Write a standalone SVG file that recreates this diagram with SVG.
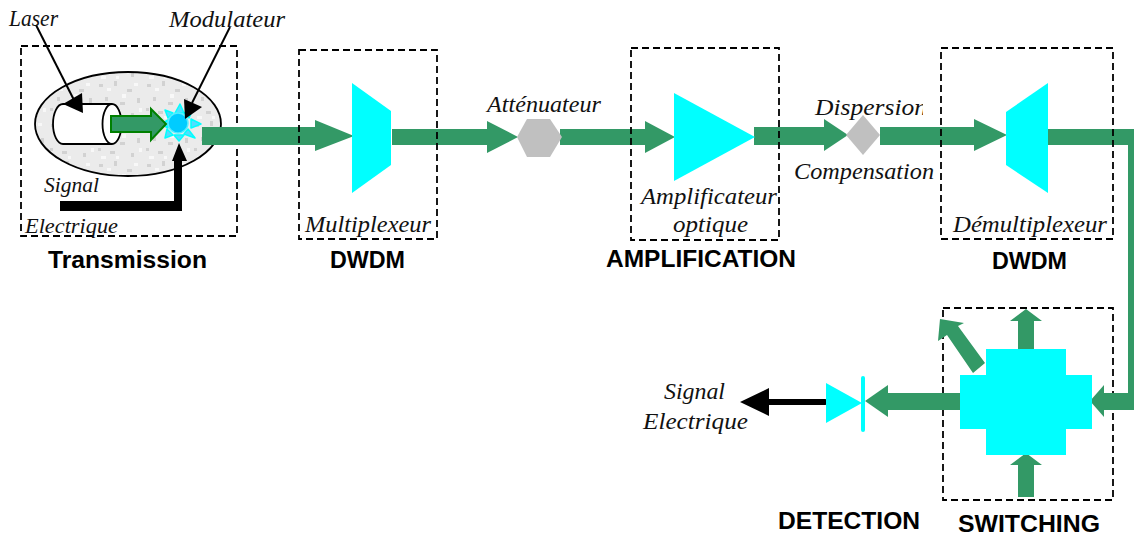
<svg xmlns="http://www.w3.org/2000/svg" width="1134" height="535" viewBox="0 0 1134 535">
<style>
.box{fill:none;stroke:#000;stroke-width:1.8;stroke-dasharray:7 4}
.g{fill:#339966}
.c{fill:#00ffff}
.s{fill:#c0c0c0}
.k{fill:#000}
.ln{fill:none;stroke:#000;stroke-width:2}
.ray{fill:#55ddff;stroke:#00ffff;stroke-width:1.500;stroke-linejoin:round}
.i{font-family:"Liberation Serif",serif;font-style:italic;font-size:23px;fill:#111}
.sm{font-size:21px}
.b{font-family:"Liberation Sans",sans-serif;font-weight:bold;font-size:24px;fill:#000}
.b2{font-size:23px}
</style>
<defs>
<pattern id="tex" width="48" height="40" patternUnits="userSpaceOnUse">
<rect width="48" height="40" fill="#ebebeb"/>
<g fill="#d2d2d2"><rect x="3" y="4" width="4" height="3"/><rect x="18" y="1" width="3" height="5"/><rect x="31" y="9" width="5" height="3"/><rect x="9" y="17" width="3" height="4"/><rect x="24" y="22" width="5" height="3"/><rect x="41" y="18" width="3" height="5"/><rect x="14" y="31" width="5" height="3"/><rect x="35" y="33" width="3" height="4"/><rect x="2" y="28" width="3" height="3"/></g>
<g fill="#f8f8f8"><rect x="11" y="8" width="4" height="3"/><rect x="26" y="14" width="4" height="4"/><rect x="38" y="3" width="4" height="3"/><rect x="5" y="36" width="5" height="3"/><rect x="20" y="36" width="3" height="3"/><rect x="43" y="28" width="3" height="4"/></g>
</pattern>
<clipPath id="dispClip"><rect x="805" y="90" width="118" height="40"/></clipPath>
</defs>
<rect width="1134" height="535" fill="#fff"/>

<g id="transmission-frame"><rect class="box" x="21" y="46" width="216" height="190"/></g>
<g id="switching-frame"><rect class="box" x="943" y="308" width="170" height="192"/></g>

<g id="laser-ellipse"><ellipse cx="128" cy="124" rx="93" ry="52" fill="url(#tex)" stroke="#000" stroke-width="1.800"/></g>
<g id="laser">
<path d="M112 104H63A10 20 0 0 0 63 144H112" fill="#fff" stroke="#000" stroke-width="1.800"/>
<ellipse cx="112" cy="124" rx="9.500" ry="20" fill="#fff" stroke="#000" stroke-width="1.800"/>
</g>
<g id="modulateur">
<polygon class="ray" points="180,104 175,113 184,113"/>
<polygon class="ray" points="201,124 191,119 191,128"/>
<polygon class="ray" points="179,141 174,135 184,135"/>
<polygon class="ray" points="161,124 168,120 168,128"/>
<polygon class="ray" points="165,110 168,118 173,113"/>
<polygon class="ray" points="193,109 184,113 189,118"/>
<polygon class="ray" points="195,138 188,129 184,134"/>
<polygon class="ray" points="165,138 167,129 173,135"/>
<circle cx="178" cy="123" r="10" fill="#00ccff" stroke="#55eeff" stroke-width="1.500"/>
</g>

<g id="connectors">
<polygon class="g" points="202,127 315,127 315,120 354,136 315,151 315,145 202,145"/>
<polygon class="g" points="392,129 487,129 487,121 518,137 487,153 487,145 392,145"/>
<polygon class="g" points="560,129 645,129 645,121 675,137 645,153 645,145 560,145"/>
<polygon class="g" points="754,127 824,127 824,119 848,135 824,151 824,145 754,145"/>
<polygon class="g" points="880,127 974,127 974,119 1007,135 974,151 974,145 880,145"/>
<path class="g" d="M1046 129H1134V410H1104V417L1090 401L1104 385V393H1128V145H1046Z"/>
<polygon class="g" points="960,393 888,393 888,385 865,401 888,417 888,410 960,410"/>
<polygon class="g" points="1018,353 1018,321 1010,321 1026,309 1042,321 1034,321 1034,353"/>
<polygon class="g" points="1018,497 1018,465 1010,465 1026,453 1042,465 1034,465 1034,497"/>
<polygon class="g" points="973,373 947,335 938,341 940,319 964,323 958,326 985,363"/>
<polygon class="g" points="111,116 151,116 151,109 166,124 151,140 151,132 111,132" stroke="#008000" stroke-width="2"/>
<path class="ln" d="M36 25L76 104"/>
<polygon class="k" points="83,113 63,104 82,93"/>
<path class="ln" d="M230 27L192 103"/>
<polygon class="k" points="185,119 184,99 202,107"/>
<polygon class="k" points="60,201 174,201 174,161 172,161 179,143 187,161 182,161 182,211 60,211"/>
<path d="M769 399H825A3 3 0 0 1 825 405H769V416L740 402L769 388Z" class="k"/>
</g>

<g id="multiplexeur"><polygon class="c" points="352,83 391,111 391,165 352,193"/></g>
<g id="attenuateur"><polygon class="s" points="517,137 527,119 550,119 562,137 550,157 527,157"/></g>
<g id="amplificateur"><polygon class="c" points="674,93 755,137 674,181"/></g>
<g id="dispersion"><polygon class="s" points="846,135 863,115 880,135 863,155"/></g>
<g id="demultiplexeur"><polygon class="c" points="1006,112 1048,83 1048,193 1006,165"/></g>
<g id="switch"><polygon class="c" points="986,349 1066,349 1066,375 1092,375 1092,429 1066,429 1066,455 986,455 986,429 960,429 960,375 986,375"/></g>
<g id="detecteur"><polygon class="c" points="826,383 862,403 826,423"/><rect class="c" x="861" y="376" width="4" height="56" rx="2"/></g>

<g id="dwdm-mux-frame"><rect class="box" x="299" y="50" width="138" height="189"/></g>
<g id="amplification-frame"><rect class="box" x="631" y="48" width="148" height="192"/></g>
<g id="dwdm-demux-frame"><rect class="box" x="941" y="48" width="172" height="191"/></g>

<g id="labels">
<text class="i" x="9" y="26" textLength="49" lengthAdjust="spacingAndGlyphs">Laser</text>
<text class="i" x="169" y="27" textLength="116" lengthAdjust="spacingAndGlyphs">Modulateur</text>
<text class="i sm" x="44" y="192" textLength="55" lengthAdjust="spacingAndGlyphs">Signal</text>
<text class="i sm" x="25" y="233" textLength="93" lengthAdjust="spacingAndGlyphs">Electrique</text>
<text class="i" x="305" y="232" textLength="126" lengthAdjust="spacingAndGlyphs">Multiplexeur</text>
<text class="i" x="487" y="112" textLength="114" lengthAdjust="spacingAndGlyphs">Atténuateur</text>
<text class="i" x="641" y="204" textLength="136" lengthAdjust="spacingAndGlyphs">Amplificateur</text>
<text class="i" x="673" y="232" textLength="75" lengthAdjust="spacingAndGlyphs">optique</text>
<text class="i" x="815" y="115" textLength="112" lengthAdjust="spacingAndGlyphs" clip-path="url(#dispClip)">Dispersion</text>
<text class="i" x="794" y="179" textLength="140" lengthAdjust="spacingAndGlyphs">Compensation</text>
<text class="i" x="953" y="232" textLength="154" lengthAdjust="spacingAndGlyphs">Démultiplexeur</text>
<text class="i" x="664" y="399" textLength="61" lengthAdjust="spacingAndGlyphs">Signal</text>
<text class="i" x="643" y="429" textLength="105" lengthAdjust="spacingAndGlyphs">Electrique</text>
<text class="b" x="48" y="268" textLength="159" lengthAdjust="spacingAndGlyphs">Transmission</text>
<text class="b b2" x="330" y="268" textLength="75" lengthAdjust="spacingAndGlyphs">DWDM</text>
<text class="b" x="606" y="267" textLength="190" lengthAdjust="spacingAndGlyphs">AMPLIFICATION</text>
<text class="b b2" x="992" y="269" textLength="75" lengthAdjust="spacingAndGlyphs">DWDM</text>
<text class="b" x="778" y="529" textLength="142" lengthAdjust="spacingAndGlyphs">DETECTION</text>
<text class="b" x="958" y="532" textLength="142" lengthAdjust="spacingAndGlyphs">SWITCHING</text>
</g>
</svg>
